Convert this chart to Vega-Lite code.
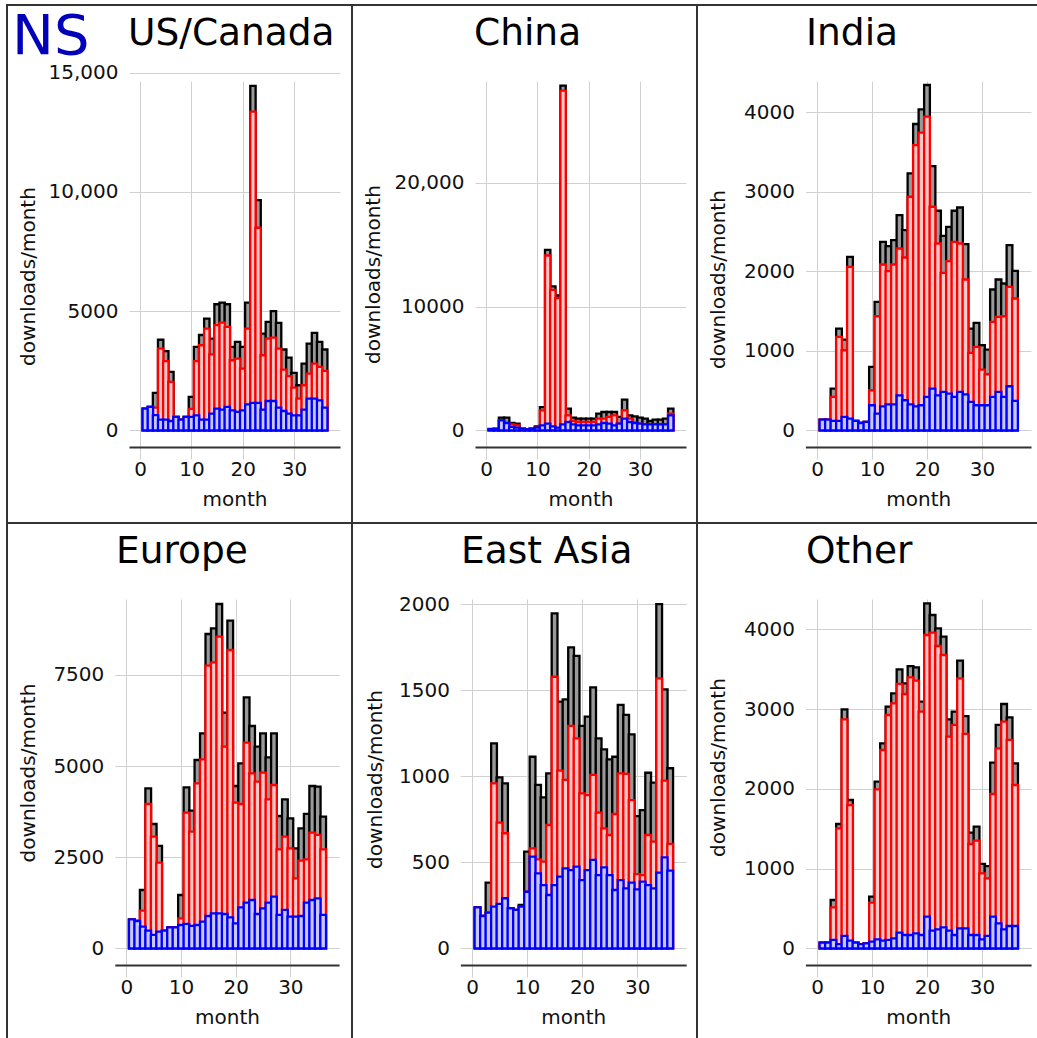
{
"$schema": "https://vega.github.io/schema/vega-lite/v6.json",
"padding": {"left": 6, "top": 4, "right": 0, "bottom": 0},
"background": "white",
"title": {"text": "NS", "anchor": "start", "frame": "group", "dx": 5, "offset": -106, "baseline": "alphabetic", "fontSize": 56, "color": "#0000bb", "font": "DejaVu Sans", "fontWeight": "normal"},
"datasets": {
"us": [
{"month":1,"total":910,"red":910,"blue":910},{"month":2,"total":980,"red":980,"blue":980},{"month":3,"total":1570,"red":950,"blue":640},{"month":4,"total":3800,"red":3430,"blue":450},{"month":5,"total":3320,"red":2900,"blue":450},{"month":6,"total":2450,"red":2030,"blue":390},{"month":7,"total":560,"red":560,"blue":560},{"month":8,"total":450,"red":450,"blue":450},{"month":9,"total":560,"red":560,"blue":560},{"month":10,"total":1400,"red":900,"blue":560},{"month":11,"total":3500,"red":2900,"blue":630},{"month":12,"total":4000,"red":3570,"blue":450},{"month":13,"total":4690,"red":4270,"blue":450},{"month":14,"total":3850,"red":3190,"blue":700},{"month":15,"total":5290,"red":4410,"blue":910},{"month":16,"total":5360,"red":4520,"blue":870},{"month":17,"total":5290,"red":4340,"blue":980},{"month":18,"total":3500,"red":2940,"blue":840},{"month":19,"total":3710,"red":3010,"blue":770},{"month":20,"total":3500,"red":2590,"blue":840},{"month":21,"total":5360,"red":4270,"blue":1090},{"month":22,"total":14450,"red":13370,"blue":1150},{"month":23,"total":9660,"red":8500,"blue":1150},{"month":24,"total":4060,"red":3150,"blue":870},{"month":25,"total":4550,"red":3850,"blue":1230},{"month":26,"total":5000,"red":3890,"blue":1230},{"month":27,"total":4510,"red":3430,"blue":950},{"month":28,"total":3390,"red":2550,"blue":810},{"month":29,"total":3050,"red":2270,"blue":700},{"month":30,"total":2410,"red":1790,"blue":630},{"month":31,"total":1890,"red":1330,"blue":630},{"month":32,"total":2800,"red":1890,"blue":870},{"month":33,"total":3640,"red":2380,"blue":1330},{"month":34,"total":4090,"red":2800,"blue":1330},{"month":35,"total":3710,"red":2660,"blue":1260},{"month":36,"total":3390,"red":2490,"blue":950}
],
"china": [
{"month":1,"total":100,"red":100,"blue":100},{"month":2,"total":120,"red":120,"blue":120},{"month":3,"total":1020,"red":800,"blue":800},{"month":4,"total":1020,"red":590,"blue":590},{"month":5,"total":590,"red":480,"blue":270},{"month":6,"total":540,"red":400,"blue":215},{"month":7,"total":130,"red":130,"blue":130},{"month":8,"total":80,"red":80,"blue":80},{"month":9,"total":130,"red":130,"blue":130},{"month":10,"total":320,"red":215,"blue":215},{"month":11,"total":1880,"red":1610,"blue":400},{"month":12,"total":14580,"red":14120,"blue":540},{"month":13,"total":11620,"red":11350,"blue":320},{"month":14,"total":10890,"red":10680,"blue":215},{"month":15,"total":27840,"red":27440,"blue":480},{"month":16,"total":1750,"red":1210,"blue":670},{"month":17,"total":1020,"red":750,"blue":480},{"month":18,"total":940,"red":670,"blue":400},{"month":19,"total":940,"red":670,"blue":400},{"month":20,"total":940,"red":670,"blue":400},{"month":21,"total":940,"red":670,"blue":400},{"month":22,"total":1340,"red":940,"blue":480},{"month":23,"total":1480,"red":940,"blue":590},{"month":24,"total":1480,"red":1080,"blue":540},{"month":25,"total":1480,"red":1210,"blue":400},{"month":26,"total":1080,"red":540,"blue":540},{"month":27,"total":2470,"red":1610,"blue":940},{"month":28,"total":1210,"red":940,"blue":670},{"month":29,"total":1130,"red":590,"blue":590},{"month":30,"total":1020,"red":540,"blue":540},{"month":31,"total":940,"red":480,"blue":480},{"month":32,"total":750,"red":480,"blue":480},{"month":33,"total":860,"red":480,"blue":480},{"month":34,"total":860,"red":480,"blue":480},{"month":35,"total":940,"red":480,"blue":480},{"month":36,"total":1750,"red":1340,"blue":1210}
],
"india": [
{"month":1,"total":134,"red":134,"blue":134},{"month":2,"total":134,"red":134,"blue":134},{"month":3,"total":525,"red":420,"blue":118},{"month":4,"total":1280,"red":1175,"blue":118},{"month":5,"total":1140,"red":1007,"blue":168},{"month":6,"total":2182,"red":2056,"blue":147},{"month":7,"total":118,"red":118,"blue":118},{"month":8,"total":92,"red":92,"blue":92},{"month":9,"total":105,"red":105,"blue":105},{"month":10,"total":797,"red":504,"blue":315},{"month":11,"total":1616,"red":1435,"blue":210},{"month":12,"total":2371,"red":2086,"blue":302},{"month":13,"total":2317,"red":2002,"blue":327},{"month":14,"total":2392,"red":2086,"blue":327},{"month":15,"total":2707,"red":2287,"blue":440},{"month":16,"total":2518,"red":2174,"blue":378},{"month":17,"total":3232,"red":2938,"blue":327},{"month":18,"total":3853,"red":3588,"blue":302},{"month":19,"total":4037,"red":3744,"blue":315},{"month":20,"total":4344,"red":3945,"blue":420},{"month":21,"total":3324,"red":2812,"blue":525},{"month":22,"total":2762,"red":2350,"blue":440},{"month":23,"total":2447,"red":1981,"blue":483},{"month":24,"total":2560,"red":2128,"blue":462},{"month":25,"total":2762,"red":2371,"blue":420},{"month":26,"total":2803,"red":2350,"blue":483},{"month":27,"total":2342,"red":1897,"blue":453},{"month":28,"total":1280,"red":974,"blue":357},{"month":29,"total":1351,"red":1049,"blue":315},{"month":30,"total":1070,"red":764,"blue":315},{"month":31,"total":1016,"red":705,"blue":315},{"month":32,"total":1771,"red":1364,"blue":420},{"month":33,"total":1897,"red":1427,"blue":483},{"month":34,"total":1847,"red":1435,"blue":420},{"month":35,"total":2329,"red":1805,"blue":554},{"month":36,"total":2006,"red":1658,"blue":369}
],
"europe": [
{"month":1,"total":796,"red":796,"blue":796},{"month":2,"total":750,"red":750,"blue":750},{"month":3,"total":1600,"red":1033,"blue":595},{"month":4,"total":4390,"red":3960,"blue":485},{"month":5,"total":3411,"red":3064,"blue":366},{"month":6,"total":2808,"red":2350,"blue":457},{"month":7,"total":485,"red":485,"blue":485},{"month":8,"total":576,"red":576,"blue":576},{"month":9,"total":576,"red":576,"blue":576},{"month":10,"total":1463,"red":823,"blue":640},{"month":11,"total":4417,"red":3722,"blue":668},{"month":12,"total":3777,"red":3201,"blue":613},{"month":13,"total":5167,"red":4527,"blue":640},{"month":14,"total":5899,"red":5186,"blue":732},{"month":15,"total":8625,"red":7756,"blue":887},{"month":16,"total":8780,"red":7847,"blue":960},{"month":17,"total":9448,"red":8552,"blue":960},{"month":18,"total":6466,"red":5533,"blue":942},{"month":19,"total":8990,"red":8186,"blue":851},{"month":20,"total":4454,"red":3997,"blue":686},{"month":21,"total":5075,"red":3960,"blue":1125},{"month":22,"total":6887,"red":5643,"blue":1253},{"month":23,"total":6100,"red":4802,"blue":1326},{"month":24,"total":5533,"red":4573,"blue":942},{"month":25,"total":5899,"red":4820,"blue":1097},{"month":26,"total":5240,"red":4088,"blue":1253},{"month":27,"total":5899,"red":4481,"blue":1418},{"month":28,"total":3631,"red":2716,"blue":915},{"month":29,"total":4088,"red":3064,"blue":1052},{"month":30,"total":3567,"red":2744,"blue":869},{"month":31,"total":2744,"red":1921,"blue":869},{"month":32,"total":3293,"red":2405,"blue":887},{"month":33,"total":3686,"red":2442,"blue":1253},{"month":34,"total":4454,"red":3174,"blue":1326},{"month":35,"total":4436,"red":3110,"blue":1372},{"month":36,"total":3613,"red":2716,"blue":915}
],
"eastasia": [
{"month":1,"total":238,"red":238,"blue":238},{"month":2,"total":188,"red":188,"blue":188},{"month":3,"total":382,"red":207,"blue":207},{"month":4,"total":1192,"red":959,"blue":242},{"month":5,"total":994,"red":731,"blue":258},{"month":6,"total":959,"red":669,"blue":291},{"month":7,"total":233,"red":233,"blue":233},{"month":8,"total":223,"red":223,"blue":223},{"month":9,"total":252,"red":242,"blue":242},{"month":10,"total":562,"red":329,"blue":329},{"month":11,"total":1114,"red":581,"blue":533},{"month":12,"total":950,"red":517,"blue":436},{"month":13,"total":878,"red":504,"blue":368},{"month":14,"total":1017,"red":717,"blue":310},{"month":15,"total":1948,"red":1579,"blue":368},{"month":16,"total":1434,"red":1033,"blue":417},{"month":17,"total":1448,"red":979,"blue":465},{"month":18,"total":1750,"red":1293,"blue":455},{"month":19,"total":1700,"red":1221,"blue":475},{"month":20,"total":1293,"red":901,"blue":397},{"month":21,"total":1347,"red":891,"blue":455},{"month":22,"total":1517,"red":1008,"blue":514},{"month":23,"total":1221,"red":789,"blue":426},{"month":24,"total":1157,"red":698,"blue":471},{"month":25,"total":1099,"red":659,"blue":426},{"month":26,"total":1114,"red":781,"blue":339},{"month":27,"total":1415,"red":1017,"blue":397},{"month":28,"total":1357,"red":1014,"blue":349},{"month":29,"total":1244,"red":862,"blue":382},{"month":30,"total":769,"red":432,"blue":343},{"month":31,"total":804,"red":426,"blue":388},{"month":32,"total":1021,"red":659,"blue":368},{"month":33,"total":963,"red":620,"blue":349},{"month":34,"total":2002,"red":1570,"blue":440},{"month":35,"total":1506,"red":975,"blue":529},{"month":36,"total":1047,"red":607,"blue":452}
],
"other": [
{"month":1,"total":71,"red":71,"blue":71},{"month":2,"total":71,"red":71,"blue":71},{"month":3,"total":606,"red":514,"blue":105},{"month":4,"total":1559,"red":1505,"blue":54},{"month":5,"total":2997,"red":2872,"blue":155},{"month":6,"total":1860,"red":1797,"blue":96},{"month":7,"total":71,"red":71,"blue":71},{"month":8,"total":54,"red":54,"blue":54},{"month":9,"total":63,"red":63,"blue":63},{"month":10,"total":648,"red":573,"blue":84},{"month":11,"total":2090,"red":1994,"blue":113},{"month":12,"total":2571,"red":2487,"blue":96},{"month":13,"total":3031,"red":2926,"blue":105},{"month":14,"total":3198,"red":3072,"blue":125},{"month":15,"total":3499,"red":3315,"blue":196},{"month":16,"total":3323,"red":3189,"blue":167},{"month":17,"total":3540,"red":3398,"blue":167},{"month":18,"total":3524,"red":3357,"blue":188},{"month":19,"total":3093,"red":2968,"blue":167},{"month":20,"total":4326,"red":3929,"blue":397},{"month":21,"total":4180,"red":3959,"blue":222},{"month":22,"total":4013,"red":3791,"blue":238},{"month":23,"total":3908,"red":3678,"blue":263},{"month":24,"total":2872,"red":2654,"blue":222},{"month":25,"total":2968,"red":2801,"blue":167},{"month":26,"total":3607,"red":3386,"blue":251},{"month":27,"total":2913,"red":2688,"blue":251},{"month":28,"total":1450,"red":1308,"blue":167},{"month":29,"total":1526,"red":1350,"blue":167},{"month":30,"total":1058,"red":941,"blue":113},{"month":31,"total":1032,"red":878,"blue":155},{"month":32,"total":2328,"red":1935,"blue":397},{"month":33,"total":2801,"red":2508,"blue":314},{"month":34,"total":3064,"red":2842,"blue":238},{"month":35,"total":2897,"red":2613,"blue":280},{"month":36,"total":2320,"red":2048,"blue":280}
]
},
"columns": 3,
"spacing": 0,
"bounds": "flush",
"concat": [
{"width": 345, "height": 518, "data": {"name": "us"},
 "title": {"text": "US/Canada", "anchor": "start", "frame": "group", "dx": 121, "offset": -77, "baseline": "alphabetic"},
 "encoding": {"x": {"field": "month", "type": "quantitative", "scale": {"domain": [-1.2, 38], "range": [122, 333], "nice": false, "zero": false}, "axis": {"values": [0,10,20,30], "offset": -76, "title": "month", "titleY": 58}}},
 "layer": [
  {"mark": {"type": "bar", "orient": "vertical", "width": 5.38, "fill": "#999999", "stroke": "#000000", "strokeWidth": 2.3},
   "encoding": {"y": {"field": "total", "type": "quantitative", "scale": {"domain": [-700, 15160], "range": [442, 64], "nice": false, "zero": false}, "axis": {"values": [0,5000,10000,15000], "labelExpr": "datum.value >= 10000 ? format(datum.value, ',') : format(datum.value, 'd')", "offset": -122, "title": "downloads/month", "titleX": -101, "titleY": 271}}}},
  {"mark": {"type": "bar", "orient": "vertical", "width": 5.38, "fill": "#ffc8c8", "stroke": "#ff0000", "strokeWidth": 2.3},
   "encoding": {"y": {"field": "red", "type": "quantitative", "scale": {"domain": [-700, 15160], "range": [442, 64], "nice": false, "zero": false}, "axis": {"values": [0,5000,10000,15000], "labelExpr": "datum.value >= 10000 ? format(datum.value, ',') : format(datum.value, 'd')", "offset": -122, "title": "downloads/month", "titleX": -101, "titleY": 271}}}},
  {"mark": {"type": "bar", "orient": "vertical", "width": 5.38, "fill": "#c8c8ff", "stroke": "#0000ff", "strokeWidth": 2.3},
   "encoding": {"y": {"field": "blue", "type": "quantitative", "scale": {"domain": [-700, 15160], "range": [442, 64], "nice": false, "zero": false}, "axis": {"values": [0,5000,10000,15000], "labelExpr": "datum.value >= 10000 ? format(datum.value, ',') : format(datum.value, 'd')", "offset": -122, "title": "downloads/month", "titleX": -101, "titleY": 271}}}}
 ]},
{"width": 345, "height": 518, "data": {"name": "china"},
 "title": {"text": "China", "anchor": "start", "frame": "group", "dx": 122, "offset": -77, "baseline": "alphabetic"},
 "encoding": {"x": {"field": "month", "type": "quantitative", "scale": {"domain": [-1.2, 38], "range": [123, 334], "nice": false, "zero": false}, "axis": {"values": [0,10,20,30], "offset": -76, "title": "month", "titleY": 58}}},
 "layer": [
  {"mark": {"type": "bar", "orient": "vertical", "width": 5.38, "fill": "#999999", "stroke": "#000000", "strokeWidth": 2.3},
   "encoding": {"y": {"field": "total", "type": "quantitative", "scale": {"domain": [-1349, 29185], "range": [442, 64], "nice": false, "zero": false}, "axis": {"values": [0,10000,20000], "labelExpr": "datum.value >= 20000 ? format(datum.value, ',') : format(datum.value, 'd')", "offset": -123, "title": "downloads/month", "titleX": -102, "titleY": 269}}}},
  {"mark": {"type": "bar", "orient": "vertical", "width": 5.38, "fill": "#ffc8c8", "stroke": "#ff0000", "strokeWidth": 2.3},
   "encoding": {"y": {"field": "red", "type": "quantitative", "scale": {"domain": [-1349, 29185], "range": [442, 64], "nice": false, "zero": false}, "axis": {"values": [0,10000,20000], "labelExpr": "datum.value >= 20000 ? format(datum.value, ',') : format(datum.value, 'd')", "offset": -123, "title": "downloads/month", "titleX": -102, "titleY": 269}}}},
  {"mark": {"type": "bar", "orient": "vertical", "width": 5.38, "fill": "#c8c8ff", "stroke": "#0000ff", "strokeWidth": 2.3},
   "encoding": {"y": {"field": "blue", "type": "quantitative", "scale": {"domain": [-1349, 29185], "range": [442, 64], "nice": false, "zero": false}, "axis": {"values": [0,10000,20000], "labelExpr": "datum.value >= 20000 ? format(datum.value, ',') : format(datum.value, 'd')", "offset": -123, "title": "downloads/month", "titleX": -102, "titleY": 269}}}}
 ]},
{"width": 345, "height": 518, "data": {"name": "india"},
 "title": {"text": "India", "anchor": "start", "frame": "group", "dx": 109, "offset": -77, "baseline": "alphabetic"},
 "encoding": {"x": {"field": "month", "type": "quantitative", "scale": {"domain": [-1.2, 38], "range": [108.4, 334], "nice": false, "zero": false}, "axis": {"values": [0,10,20,30], "offset": -76, "title": "month", "titleY": 58}}},
 "layer": [
  {"mark": {"type": "bar", "orient": "vertical", "width": 5.76, "fill": "#999999", "stroke": "#000000", "strokeWidth": 2.3},
   "encoding": {"y": {"field": "total", "type": "quantitative", "scale": {"domain": [-210, 4545], "range": [442, 64], "nice": false, "zero": false}, "axis": {"values": [0,1000,2000,3000,4000], "format": "d", "offset": -108.4, "title": "downloads/month", "titleX": -87.4, "titleY": 274}}}},
  {"mark": {"type": "bar", "orient": "vertical", "width": 5.76, "fill": "#ffc8c8", "stroke": "#ff0000", "strokeWidth": 2.3},
   "encoding": {"y": {"field": "red", "type": "quantitative", "scale": {"domain": [-210, 4545], "range": [442, 64], "nice": false, "zero": false}, "axis": {"values": [0,1000,2000,3000,4000], "format": "d", "offset": -108.4, "title": "downloads/month", "titleX": -87.4, "titleY": 274}}}},
  {"mark": {"type": "bar", "orient": "vertical", "width": 5.76, "fill": "#c8c8ff", "stroke": "#0000ff", "strokeWidth": 2.3},
   "encoding": {"y": {"field": "blue", "type": "quantitative", "scale": {"domain": [-210, 4545], "range": [442, 64], "nice": false, "zero": false}, "axis": {"values": [0,1000,2000,3000,4000], "format": "d", "offset": -108.4, "title": "downloads/month", "titleX": -87.4, "titleY": 274}}}}
 ]},
{"width": 345, "height": 518, "data": {"name": "europe"},
 "title": {"text": "Europe", "anchor": "start", "frame": "group", "dx": 109, "offset": -77, "baseline": "alphabetic"},
 "encoding": {"x": {"field": "month", "type": "quantitative", "scale": {"domain": [-1.2, 38], "range": [107.8, 332.1], "nice": false, "zero": false}, "axis": {"values": [0,10,20,30], "offset": -76, "title": "month", "titleY": 58}}},
 "layer": [
  {"mark": {"type": "bar", "orient": "vertical", "width": 5.72, "fill": "#999999", "stroke": "#000000", "strokeWidth": 2.3},
   "encoding": {"y": {"field": "total", "type": "quantitative", "scale": {"domain": [-458, 9914], "range": [442, 64], "nice": false, "zero": false}, "axis": {"values": [0,2500,5000,7500], "format": "d", "offset": -107.8, "title": "downloads/month", "titleX": -86.8, "titleY": 249.5}}}},
  {"mark": {"type": "bar", "orient": "vertical", "width": 5.72, "fill": "#ffc8c8", "stroke": "#ff0000", "strokeWidth": 2.3},
   "encoding": {"y": {"field": "red", "type": "quantitative", "scale": {"domain": [-458, 9914], "range": [442, 64], "nice": false, "zero": false}, "axis": {"values": [0,2500,5000,7500], "format": "d", "offset": -107.8, "title": "downloads/month", "titleX": -86.8, "titleY": 249.5}}}},
  {"mark": {"type": "bar", "orient": "vertical", "width": 5.72, "fill": "#c8c8ff", "stroke": "#0000ff", "strokeWidth": 2.3},
   "encoding": {"y": {"field": "blue", "type": "quantitative", "scale": {"domain": [-458, 9914], "range": [442, 64], "nice": false, "zero": false}, "axis": {"values": [0,2500,5000,7500], "format": "d", "offset": -107.8, "title": "downloads/month", "titleX": -86.8, "titleY": 249.5}}}}
 ]},
{"width": 345, "height": 518, "data": {"name": "eastasia"},
 "title": {"text": "East Asia", "anchor": "start", "frame": "group", "dx": 109, "offset": -77, "baseline": "alphabetic"},
 "encoding": {"x": {"field": "month", "type": "quantitative", "scale": {"domain": [-1.2, 38], "range": [108.4, 334.2], "nice": false, "zero": false}, "axis": {"values": [0,10,20,30], "offset": -76, "title": "month", "titleY": 58}}},
 "layer": [
  {"mark": {"type": "bar", "orient": "vertical", "width": 5.76, "fill": "#999999", "stroke": "#000000", "strokeWidth": 2.3},
   "encoding": {"y": {"field": "total", "type": "quantitative", "scale": {"domain": [-97, 2101], "range": [442, 64], "nice": false, "zero": false}, "axis": {"values": [0,500,1000,1500,2000], "format": "d", "offset": -108.4, "title": "downloads/month", "titleX": -85.4, "titleY": 256}}}},
  {"mark": {"type": "bar", "orient": "vertical", "width": 5.76, "fill": "#ffc8c8", "stroke": "#ff0000", "strokeWidth": 2.3},
   "encoding": {"y": {"field": "red", "type": "quantitative", "scale": {"domain": [-97, 2101], "range": [442, 64], "nice": false, "zero": false}, "axis": {"values": [0,500,1000,1500,2000], "format": "d", "offset": -108.4, "title": "downloads/month", "titleX": -85.4, "titleY": 256}}}},
  {"mark": {"type": "bar", "orient": "vertical", "width": 5.76, "fill": "#c8c8ff", "stroke": "#0000ff", "strokeWidth": 2.3},
   "encoding": {"y": {"field": "blue", "type": "quantitative", "scale": {"domain": [-97, 2101], "range": [442, 64], "nice": false, "zero": false}, "axis": {"values": [0,500,1000,1500,2000], "format": "d", "offset": -108.4, "title": "downloads/month", "titleX": -85.4, "titleY": 256}}}}
 ]},
{"width": 345, "height": 518, "data": {"name": "other"},
 "title": {"text": "Other", "anchor": "start", "frame": "group", "dx": 109, "offset": -77, "baseline": "alphabetic"},
 "encoding": {"x": {"field": "month", "type": "quantitative", "scale": {"domain": [-1.2, 38], "range": [108.4, 334.1], "nice": false, "zero": false}, "axis": {"values": [0,10,20,30], "offset": -76, "title": "month", "titleY": 58}}},
 "layer": [
  {"mark": {"type": "bar", "orient": "vertical", "width": 5.76, "fill": "#999999", "stroke": "#000000", "strokeWidth": 2.3},
   "encoding": {"y": {"field": "total", "type": "quantitative", "scale": {"domain": [-209, 4531], "range": [442, 64], "nice": false, "zero": false}, "axis": {"values": [0,1000,2000,3000,4000], "format": "d", "offset": -108.4, "title": "downloads/month", "titleX": -87.4, "titleY": 244}}}},
  {"mark": {"type": "bar", "orient": "vertical", "width": 5.76, "fill": "#ffc8c8", "stroke": "#ff0000", "strokeWidth": 2.3},
   "encoding": {"y": {"field": "red", "type": "quantitative", "scale": {"domain": [-209, 4531], "range": [442, 64], "nice": false, "zero": false}, "axis": {"values": [0,1000,2000,3000,4000], "format": "d", "offset": -108.4, "title": "downloads/month", "titleX": -87.4, "titleY": 244}}}},
  {"mark": {"type": "bar", "orient": "vertical", "width": 5.76, "fill": "#c8c8ff", "stroke": "#0000ff", "strokeWidth": 2.3},
   "encoding": {"y": {"field": "blue", "type": "quantitative", "scale": {"domain": [-209, 4531], "range": [442, 64], "nice": false, "zero": false}, "axis": {"values": [0,1000,2000,3000,4000], "format": "d", "offset": -108.4, "title": "downloads/month", "titleX": -87.4, "titleY": 244}}}}
 ]}
],
"config": {
 "view": {"stroke": "#333333", "strokeWidth": 2},
 "axis": {"labelFont": "DejaVu Sans", "titleFont": "DejaVu Sans", "labelFontSize": 20, "titleFontSize": 20, "titleFontWeight": "normal", "labelColor": "#111111", "titleColor": "#111111", "gridColor": "#d0d0d0", "gridWidth": 1, "grid": true, "ticks": false, "tickSize": 0},
 "axisX": {"domain": true, "domainColor": "#333333", "domainWidth": 2, "labelBaseline": "alphabetic", "labelPadding": 28, "titleBaseline": "alphabetic"},
 "axisY": {"domain": false, "labelPadding": 11, "labelBaseline": "middle", "titleAngle": 270, "titleAlign": "center", "titleBaseline": "middle"},
 "title": {"font": "DejaVu Sans", "fontWeight": "normal", "fontSize": 37.5, "color": "#000000"}
}
}
